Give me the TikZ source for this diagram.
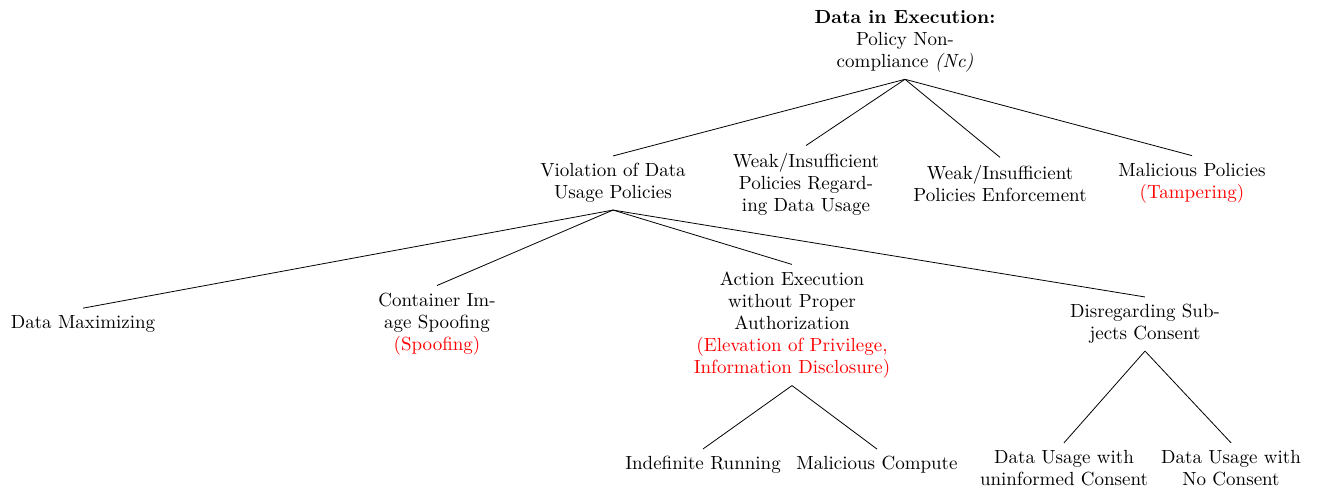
\documentclass[tikz,border=0pt]{standalone}
\begin{document}
\begin{tikzpicture}[x=0.5pt,y=-0.5pt]
\tikzset{
  tnode/.style={align=center, font=\fontsize{9.5}{11}\selectfont, inner sep=3.5pt},
  branch/.style={draw=black, line width=0.4pt}
}
\useasboundingbox (0,0) rectangle (1321,489);
\node[tnode] (root) at (905,41) {\textbf{Data in Execution:}\\Policy Non-\\compliance \textit{(Nc)}};
\node[tnode] (v) at (613,183) {Violation of Data\\Usage Policies};
\node[tnode] (wr) at (806,184) {Weak/Insufficient\\Policies Regard-\\ing Data Usage};
\node[tnode] (we) at (1000,183) {Weak/Insufficient\\Policies Enforcement};
\node[tnode] (mp) at (1192,183) {Malicious Policies\\\textcolor{red}{(Tampering)}};
\node[tnode] (dm) at (83,324) {Data Maximizing};
\node[tnode] (ci) at (437,324) {Container Im-\\age Spoofing\\\textcolor{red}{(Spoofing)}};
\node[tnode] (ae) at (792,325) {Action Execution\\without Proper\\Authorization\\\textcolor{red}{(Elevation of Privilege,}\\\textcolor{red}{Information Disclosure)}};
\node[tnode] (ds) at (1145,324) {Disregarding Sub-\\jects Consent};
\node[tnode] (ir) at (703,465) {Indefinite Running};
\node[tnode] (mc) at (877,465) {Malicious Compute};
\node[tnode] (du) at (1064,468) {Data Usage with\\uninformed Consent};
\node[tnode] (dn) at (1231,468) {Data Usage with\\No Consent};
\foreach \c in {v,wr,we,mp} \draw[branch] (root.south) -- (\c.north);
\foreach \c in {dm,ci,ae,ds} \draw[branch] (v.south) -- (\c.north);
\foreach \c in {ir,mc} \draw[branch] (ae.south) -- (\c.north);
\foreach \c in {du,dn} \draw[branch] (ds.south) -- (\c.north);
\end{tikzpicture}
\end{document}
